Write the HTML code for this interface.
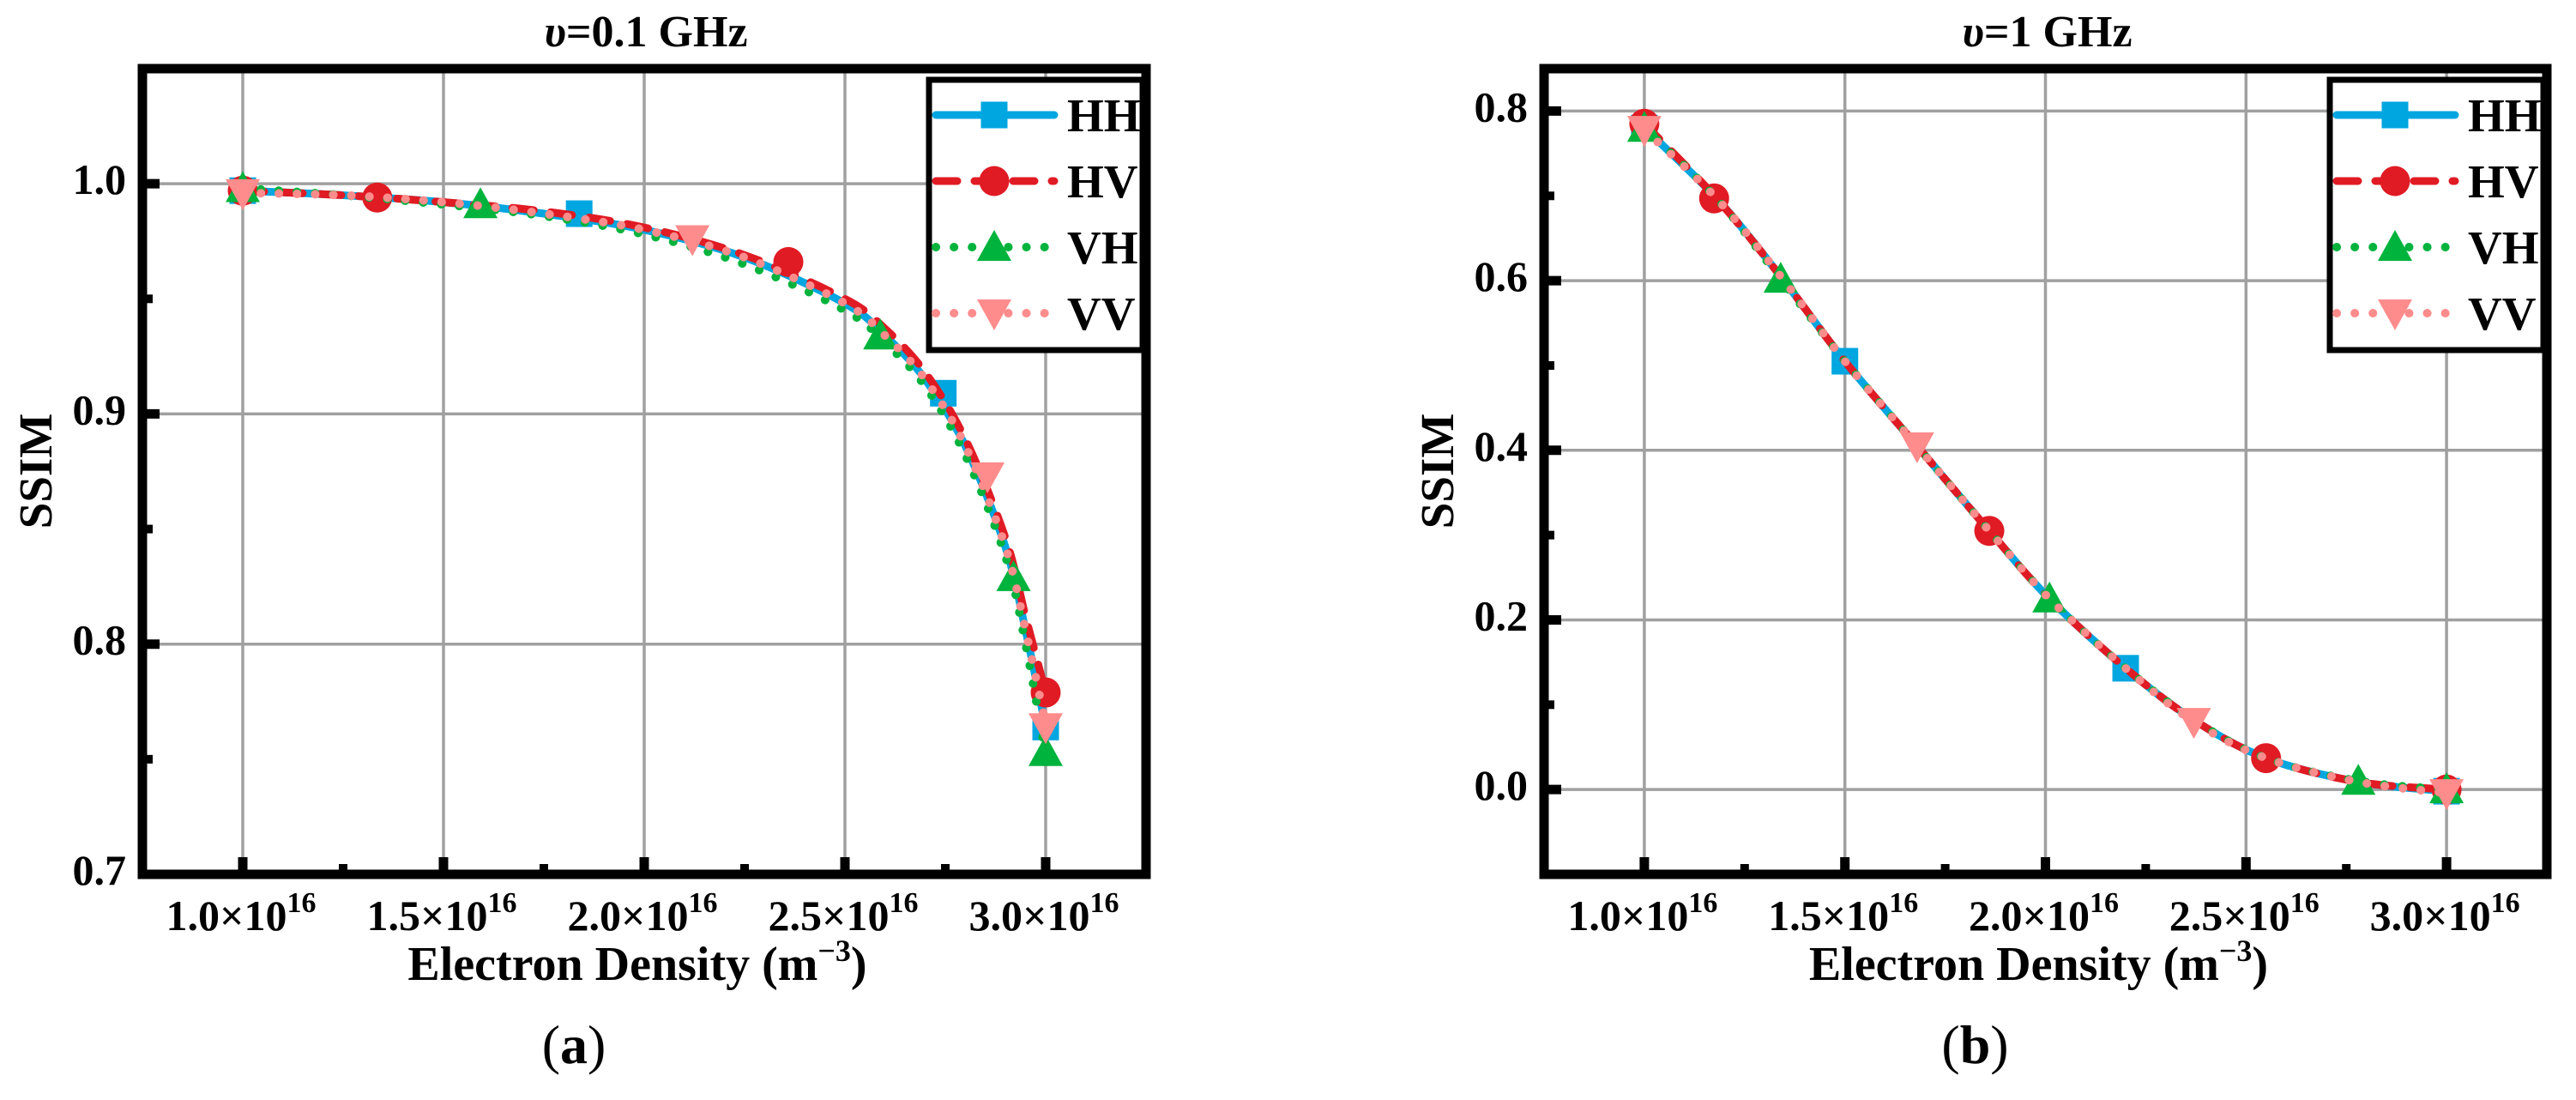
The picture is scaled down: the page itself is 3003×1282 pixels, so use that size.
<!DOCTYPE html>
<html><head><meta charset="utf-8"><style>
html,body{margin:0;padding:0;background:#fff;overflow:hidden;}
svg{display:block;font-family:"Liberation Serif",serif;}
</style></head><body>
<svg id="svg" width="3003" height="1282" viewBox="0 0 3003 1282" xmlns="http://www.w3.org/2000/svg"></svg>
<script>
// ---- data: panel (a) v=0.1 GHz ----
const lineXA = [1.0,1.25,1.5,1.75,2.0,2.25,2.5,2.6,2.7,2.8,2.9,2.95,3.0];
const hhLineA = [0.997,0.995,0.992,0.987,0.980,0.968,0.948,0.934,0.915,0.886,0.842,0.806,0.764];
const hvLineA = [0.997,0.995,0.992,0.988,0.981,0.969,0.950,0.937,0.918,0.889,0.846,0.812,0.779];
const vhLineA = [0.998,0.995,0.991,0.986,0.978,0.965,0.945,0.931,0.912,0.882,0.838,0.800,0.752];
const vvLineA = [0.996,0.995,0.992,0.987,0.980,0.968,0.948,0.934,0.915,0.886,0.842,0.806,0.765];
const hhMkXA = [1.0,1.838,2.745,3.0], hhMkYA = [0.997,0.987,0.909,0.764];
const hvMkXA = [1.0,1.335,2.359,3.0], hvMkYA = [0.997,0.994,0.966,0.779];
const vhMkXA = [1.0,1.592,2.588,2.92,3.0], vhMkYA = [0.998,0.991,0.934,0.829,0.753];
const vvMkXA = [1.0,2.12,2.855,3.0], vvMkYA = [0.996,0.976,0.873,0.764];
const yTicksA = [0.7,0.8,0.9,1.0];
const yTickLabelsA = ["0.7","0.8","0.9","1.0"];
// ---- data: panel (b) v=1 GHz ----
const lineXB = [1.0,1.18,1.34,1.5,1.68,1.86,2.01,2.2,2.37,2.55,2.78,3.0];
const hhLineB = [0.78,0.697,0.605,0.505,0.405,0.305,0.225,0.143,0.082,0.037,0.009,-0.002];
const hvLineB = [0.785,0.697,0.605,0.505,0.405,0.305,0.225,0.143,0.082,0.037,0.009,0.0];
const vhLineB = [0.78,0.697,0.602,0.505,0.405,0.305,0.225,0.143,0.082,0.037,0.01,0.0];
const vvLineB = [0.778,0.697,0.605,0.505,0.405,0.305,0.225,0.143,0.08,0.037,0.009,-0.004];
const hhMkXB = [1.0,1.5,2.2,3.0], hhMkYB = [0.78,0.505,0.143,-0.002];
const hvMkXB = [1.0,1.174,1.86,2.55,3.0], hvMkYB = [0.785,0.697,0.305,0.037,0.0];
const vhMkXB = [1.0,1.34,2.01,2.78,3.0], vhMkYB = [0.78,0.602,0.225,0.01,0.0];
const vvMkXB = [1.0,1.68,2.37,3.0], vvMkYB = [0.778,0.405,0.08,-0.004];
const yTicksB = [0.0,0.2,0.4,0.6,0.8];
const yTickLabelsB = ["0.0","0.2","0.4","0.6","0.8"];
const xTicks = [1.0,1.5,2.0,2.5,3.0];
const xTickLabels = ["1.0","1.5","2.0","2.5","3.0"];
const seriesNames = ["HH","HV","VH","VV"];

const NS="http://www.w3.org/2000/svg";
const svg=document.getElementById('svg');
function mk(tag,attrs,parent){const e=document.createElementNS(NS,tag);for(const k in attrs)e.setAttribute(k,attrs[k]);(parent||svg).appendChild(e);return e;}
const styles={
 HH:{c:"#00a6e0",dash:"",w:9,cap:"round",mk:"sq"},
 HV:{c:"#e01b24",dash:"25 20",w:9,cap:"round",mk:"ci"},
 VH:{c:"#00b33c",dash:"0.1 21",w:10,cap:"round",mk:"tu"},
 VV:{c:"#ff8c8c",dash:"0.1 21",w:10,cap:"round",mk:"td"}
};
function marker(g,type,x,y,c){
 let e;
 if(type==="sq"){e=mk('rect',{x:x-15.5,y:y-15.5,width:31,height:31,fill:c},g);}
 else if(type==="ci"){e=mk('circle',{cx:x,cy:y,r:17.5,fill:c},g);}
 else if(type==="tu"){e=mk('polygon',{points:`${x},${y-20} ${x-20},${y+16} ${x+20},${y+16}`,fill:c},g);}
 else {e=mk('polygon',{points:`${x},${y+20} ${x-20},${y-16} ${x+20},${y-16}`,fill:c},g);}
 
 
}
function smoothPath(pts){
 let d=`M${pts[0][0]},${pts[0][1]}`;
 for(let i=0;i<pts.length-1;i++){
  const p0=pts[Math.max(0,i-1)],p1=pts[i],p2=pts[i+1],p3=pts[Math.min(pts.length-1,i+2)];
  const c1=[p1[0]+(p2[0]-p0[0])/6,p1[1]+(p2[1]-p0[1])/6];
  const c2=[p2[0]-(p3[0]-p1[0])/6,p2[1]-(p3[1]-p1[1])/6];
  d+=` C${c1[0]},${c1[1]} ${c2[0]},${c2[1]} ${p2[0]},${p2[1]}`;
 }
 return d;
}
function panel(o){
 const {L,R,T,B,xmin,xmax,ymin,ymax}=o;
 const sx=v=>L+(v-xmin)/(xmax-xmin)*(R-L);
 const sy=v=>B-(v-ymin)/(ymax-ymin)*(B-T);
 const g=mk('g',{});
 
 
 xTicks.forEach(v=>{const l=mk('line',{x1:sx(v),x2:sx(v),y1:T,y2:B,stroke:"#a0a0a0","stroke-width":3.5},g);
  
  });
 o.yTicks.forEach(v=>{const l=mk('line',{x1:L,x2:R,y1:sy(v),y2:sy(v),stroke:"#a0a0a0","stroke-width":3.5},g);
  
  });
 o.series.forEach((s,i)=>{
  const st=styles[seriesNames[i]];
  const pts=o.lineX.map((x,j)=>[sx(x),sy(s.line[j])]);
  const p=mk('path',{d:smoothPath(pts),fill:"none",stroke:st.c,"stroke-width":st.w,"stroke-linecap":st.cap,"stroke-dasharray":st.dash},g);
  
  
  s.mx.forEach((x,j)=>marker(g,st.mk,sx(x),sy(s.my[j]),st.c));
 });
 const fr=mk('rect',{x:L,y:T,width:R-L,height:B-T,fill:"none",stroke:"#000","stroke-width":11},g);
 
 
 xTicks.forEach((v,i)=>{
  const t=mk('line',{x1:sx(v),x2:sx(v),y1:B,y2:B-20,stroke:"#000","stroke-width":11},g);
  
  
  if(i<xTicks.length-1){const m=mk('line',{x1:sx(v+0.25),x2:sx(v+0.25),y1:B,y2:B-12,stroke:"#000","stroke-width":10},g);
   
   }
  const tx=mk('text',{x:sx(v)-2,y:1084,"text-anchor":"middle","font-size":50,"font-weight":"bold"},g);
  tx.innerHTML=xTickLabels[i]+'×10<tspan dy="-21" font-size="34">16</tspan>';
  
  
 });
 o.yTicks.forEach((v,i)=>{
  const t=mk('line',{x1:L,x2:L+20,y1:sy(v),y2:sy(v),stroke:"#000","stroke-width":11},g);
  
  
  const mv=v+(o.yTicks[1]-o.yTicks[0])/2;
  if(mv<ymax){const m=mk('line',{x1:L,x2:L+12,y1:sy(mv),y2:sy(mv),stroke:"#000","stroke-width":10},g);
   
   }
  const tx=mk('text',{x:L-19,y:sy(v)+12,"text-anchor":"end","font-size":50,"font-weight":"bold"},g);
  tx.textContent=o.yTickLabels[i];
  
  
 });
 const ti=mk('text',{x:(L+R)/2+2,y:54,"text-anchor":"middle","font-size":52,"font-weight":"bold"},g);
 ti.innerHTML='<tspan font-style="italic">υ</tspan>='+o.title;
 
 
 const xl=mk('text',{x:(L+R)/2-8,y:1142,"text-anchor":"middle","font-size":56,"font-weight":"bold"},g);
 xl.innerHTML='Electron Density (m<tspan dy="-22" font-size="36">−3</tspan><tspan dy="22">)</tspan>';
 
 
 const yl=mk('text',{x:0,y:0,"text-anchor":"middle","font-size":55,"font-weight":"bold",transform:`translate(${L-106},549) rotate(-90)`},g);
 yl.textContent='SSIM';
 
 
 const cap=mk('text',{x:(L+R)/2-82,y:1239,"text-anchor":"middle","font-size":64},g);
 cap.innerHTML='(<tspan font-weight="bold">'+o.cap+'</tspan>)';
 
 
 const lg=mk('g',{},g);
 
 
 const lx=R-253;
 const lb=mk('rect',{x:lx,y:93,width:249,height:315,fill:"#fff",stroke:"#000","stroke-width":7},lg);
 
 
 seriesNames.forEach((n,i)=>{
  const st=styles[n];const y=134+i*77;
  const ln=mk('line',{x1:lx+8,x2:lx+146,y1:y,y2:y,stroke:st.c,"stroke-width":st.w,"stroke-dasharray":st.dash,"stroke-linecap":st.cap},lg);
  
  
  marker(lg,st.mk,lx+76,y,st.c);
  const tx=mk('text',{x:lx+161,y:y+19,"font-size":55,"font-weight":"bold"},lg);
  tx.textContent=n;
  
  
 });
}
panel({name:'chart-a',L:166,R:1336,T:80,B:1019,xmin:0.75,xmax:3.25,ymin:0.7,ymax:1.05,
 yTicks:yTicksA,yTickLabels:yTickLabelsA,title:'0.1 GHz',cap:'a',lineX:lineXA,
 series:[{line:hhLineA,mx:hhMkXA,my:hhMkYA},{line:hvLineA,mx:hvMkXA,my:hvMkYA},{line:vhLineA,mx:vhMkXA,my:vhMkYA},{line:vvLineA,mx:vvMkXA,my:vvMkYA}]});
panel({name:'chart-b',L:1800,R:2969,T:80,B:1019,xmin:0.75,xmax:3.25,ymin:-0.1,ymax:0.85,
 yTicks:yTicksB,yTickLabels:yTickLabelsB,title:'1 GHz',cap:'b',lineX:lineXB,
 series:[{line:hhLineB,mx:hhMkXB,my:hhMkYB},{line:hvLineB,mx:hvMkXB,my:hvMkYB},{line:vhLineB,mx:vhMkXB,my:vhMkYB},{line:vvLineB,mx:vvMkXB,my:vvMkYB}]});
</script>
</body></html>
